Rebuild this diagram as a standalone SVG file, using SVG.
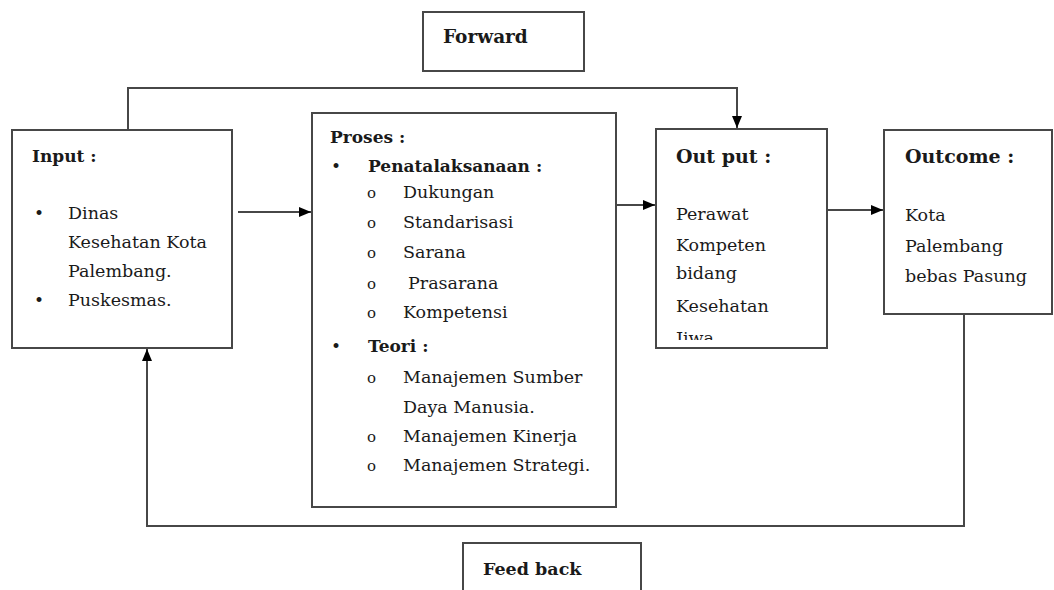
<svg xmlns="http://www.w3.org/2000/svg" width="1054" height="590" viewBox="0 0 1054 590">
<style>
.box{fill:#fff;stroke:#474747;stroke-width:2}
.ln{fill:none;stroke:#474747;stroke-width:2}
text{font-family:"DejaVu Serif","Liberation Serif",serif;fill:#1a1a1a}
.t{font-size:17px;font-weight:bold}
.tl{font-size:18.5px;font-weight:bold}
.h{font-size:19px;font-weight:bold}
.b{font-size:17.5px}
.bul{font-size:17px}
.o{font-size:15px}
</style>
<defs>
<marker id="ah" viewBox="0 0 12 10" refX="12" refY="5" markerWidth="12" markerHeight="10" markerUnits="userSpaceOnUse" orient="auto">
<path d="M0,0 L12,5 L0,10 Z" fill="#000"/>
</marker>
<clipPath id="outclip"><rect x="656" y="129" width="171" height="211"/></clipPath>
</defs>
<rect width="1054" height="590" fill="#fff"/>
<g id="connectors">
<path class="ln" d="M128,130 V88 H737 V128" marker-end="url(#ah)"/>
<path class="ln" d="M964,314 V526 H147 V349" marker-end="url(#ah)"/>
<path class="ln" d="M238,212 H311" marker-end="url(#ah)"/>
<path class="ln" d="M602,205 H655" marker-end="url(#ah)"/>
<path class="ln" d="M827,210 H883" marker-end="url(#ah)"/>
</g>
<g id="forward">
<rect class="box" x="423" y="12" width="161" height="59"/>
<text class="tl" x="443" y="43">Forward</text>
</g>
<g id="input">
<rect class="box" x="12" y="130" width="220" height="218"/>
<text class="t" x="32" y="162">Input :</text>
<text class="bul" x="34" y="219">•</text>
<text class="b" x="68" y="219">Dinas</text>
<text class="b" x="68" y="248">Kesehatan Kota</text>
<text class="b" x="68" y="277">Palembang.</text>
<text class="bul" x="34" y="306">•</text>
<text class="b" x="68" y="306">Puskesmas.</text>
</g>
<g id="proses">
<rect class="box" x="312" y="113" width="304" height="394"/>
<text class="t" x="330" y="143">Proses :</text>
<text class="bul" x="331" y="172">•</text>
<text class="t" x="368" y="172">Penatalaksanaan :</text>
<text class="o" x="367" y="198">o</text>
<text class="b" x="403" y="198">Dukungan</text>
<text class="o" x="367" y="228">o</text>
<text class="b" x="403" y="228">Standarisasi</text>
<text class="o" x="367" y="258">o</text>
<text class="b" x="403" y="258">Sarana</text>
<text class="o" x="367" y="289">o</text>
<text class="b" x="408" y="289">Prasarana</text>
<text class="o" x="367" y="318">o</text>
<text class="b" x="403" y="318">Kompetensi</text>
<text class="bul" x="331" y="352">•</text>
<text class="t" x="368" y="352">Teori :</text>
<text class="o" x="367" y="383">o</text>
<text class="b" x="403" y="383">Manajemen Sumber</text>
<text class="b" x="403" y="413">Daya Manusia.</text>
<text class="o" x="367" y="442">o</text>
<text class="b" x="403" y="442">Manajemen Kinerja</text>
<text class="o" x="367" y="471">o</text>
<text class="b" x="403" y="471">Manajemen Strategi.</text>
</g>
<g id="output">
<rect class="box" x="656" y="129" width="171" height="219"/>
<text class="h" x="676" y="163">Out put :</text>
<text class="b" x="676" y="220">Perawat</text>
<text class="b" x="676" y="251">Kompeten</text>
<text class="b" x="676" y="279">bidang</text>
<text class="b" x="676" y="312">Kesehatan</text>
<text class="b" x="676" y="344" clip-path="url(#outclip)">Jiwa</text>
</g>
<g id="outcome">
<rect class="box" x="884" y="130" width="168" height="184"/>
<text class="h" x="905" y="163">Outcome :</text>
<text class="b" x="905" y="221">Kota</text>
<text class="b" x="905" y="252">Palembang</text>
<text class="b" x="905" y="282">bebas Pasung</text>
</g>
<g id="feedback">
<rect class="box" x="463" y="543" width="178" height="60"/>
<text class="t" x="483" y="575" style="font-size:17.5px">Feed back</text>
</g>
</svg>
